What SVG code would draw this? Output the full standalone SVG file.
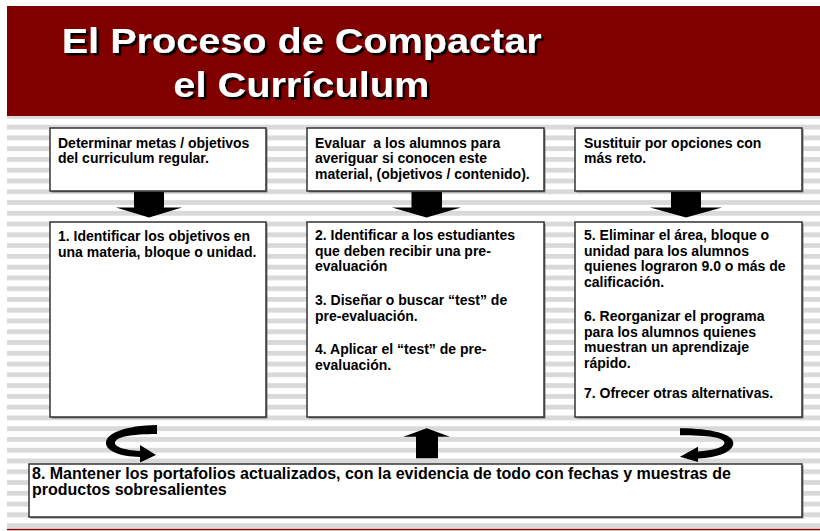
<svg xmlns="http://www.w3.org/2000/svg" width="820" height="531" viewBox="0 0 820 531">
<defs>
<pattern id="stripes" x="0" y="6.23" width="20" height="10.77" patternUnits="userSpaceOnUse"><rect width="20" height="4.8" fill="#d9d9d9"/></pattern>
<filter id="tshadow" x="-5%" y="-20%" width="110%" height="140%"><feDropShadow dx="2.5" dy="2.5" stdDeviation="0.3" flood-color="#000000" flood-opacity="1"/></filter>
<style>
.box{fill:#ffffff;stroke:#333333;stroke-width:1.5}
.shadow{fill:#7f7f7f}
.t{font-family:"Liberation Sans",Arial,sans-serif;font-weight:bold;font-size:14px;fill:#000000}
.t8{font-size:16px}
.title{font-family:"Liberation Sans",Arial,sans-serif;font-weight:bold;font-size:34.5px;fill:#ffffff;filter:url(#tshadow)}
.arrow{fill:#000000}
</style>
</defs>
<rect x="0" y="0" width="820" height="531" fill="#ffffff"/>
<rect x="7" y="112" width="813" height="416" fill="url(#stripes)"/>
<rect x="7" y="6" width="813" height="110" fill="#800000"/>
<line x1="7" y1="529.5" x2="820" y2="529.5" stroke="#800000" stroke-width="1.5"/>
<g id="title">
<text class="title" x="61.7" y="53.3" textLength="480" lengthAdjust="spacingAndGlyphs">El Proceso de Compactar</text>
<text class="title" x="173.3" y="96.7" textLength="256" lengthAdjust="spacingAndGlyphs">el Currículum</text>
</g>
<g id="box1">
<rect class="shadow" x="51.5" y="129.5" width="216" height="63"/>
<rect class="box" x="50" y="128" width="216" height="63"/>
<text class="t" x="58"><tspan x="58" y="147.5">Determinar metas / objetivos</tspan><tspan x="58" y="163">del curriculum regular.</tspan></text>
</g>
<g id="box2">
<rect class="shadow" x="308.5" y="129.5" width="237" height="63"/>
<rect class="box" x="307" y="128" width="237" height="63"/>
<text class="t" x="315" xml:space="preserve"><tspan x="315" y="147.5">Evaluar  a los alumnos para</tspan><tspan x="315" y="163">averiguar si conocen este</tspan><tspan x="315" y="178.5">material, (objetivos / contenido).</tspan></text>
</g>
<g id="box3">
<rect class="shadow" x="576.5" y="129.5" width="227" height="63"/>
<rect class="box" x="575" y="128" width="227" height="63"/>
<text class="t" x="584"><tspan x="584" y="147.5">Sustituir por opciones con</tspan><tspan x="584" y="163">más reto.</tspan></text>
</g>
<g id="box4">
<rect class="shadow" x="51.5" y="223.5" width="216" height="195"/>
<rect class="box" x="50" y="222" width="216" height="195"/>
<text class="t" x="58"><tspan x="58" y="241">1. Identificar los objetivos en</tspan><tspan x="58" y="256.5">una materia, bloque o unidad.</tspan></text>
</g>
<g id="box5">
<rect class="shadow" x="308.5" y="223.5" width="237" height="195"/>
<rect class="box" x="307" y="222" width="237" height="195"/>
<text class="t" x="315"><tspan x="315" y="240">2. Identificar a los estudiantes</tspan><tspan x="315" y="255.5">que deben recibir una pre-</tspan><tspan x="315" y="271">evaluación</tspan><tspan x="315" y="305">3. Diseñar o buscar “test” de</tspan><tspan x="315" y="320.5">pre-evaluación.</tspan><tspan x="315" y="354">4. Aplicar el “test” de pre-</tspan><tspan x="315" y="369.5">evaluación.</tspan></text>
</g>
<g id="box6">
<rect class="shadow" x="576.5" y="223.5" width="227" height="195"/>
<rect class="box" x="575" y="222" width="227" height="195"/>
<text class="t" x="584"><tspan x="584" y="240">5. Eliminar el área, bloque o</tspan><tspan x="584" y="255.5">unidad para los alumnos</tspan><tspan x="584" y="271">quienes lograron 9.0 o más de</tspan><tspan x="584" y="286.5">calificación.</tspan><tspan x="584" y="321">6. Reorganizar el programa</tspan><tspan x="584" y="336.5">para los alumnos quienes</tspan><tspan x="584" y="352">muestran un aprendizaje</tspan><tspan x="584" y="367.5">rápido.</tspan><tspan x="584" y="398">7. Ofrecer otras alternativas.</tspan></text>
</g>
<g id="box8">
<rect class="shadow" x="30.5" y="465.5" width="773" height="53"/>
<rect class="box" x="29" y="464" width="773" height="53"/>
<text class="t t8" x="32"><tspan x="32" y="479">8. Mantener los portafolios actualizados, con la evidencia de todo con fechas y muestras de</tspan><tspan x="32" y="494.5">productos sobresalientes</tspan></text>
</g>
<g id="connectors">
<polygon class="arrow" points="134,192 164,192 164,207.5 182,207.5 149,217.5 116,207.5 134,207.5"/>
<polygon class="arrow" points="411.5,192 442,192 442,207.5 461,207.5 426.5,217.5 392,207.5 411.5,207.5"/>
<polygon class="arrow" points="671,192 701,192 701,207.5 722,207.5 686,217.5 650,207.5 671,207.5"/>
<polygon class="arrow" points="416,458.3 438,458.3 438,436.7 450,436.7 426.7,428.3 403.3,436.7 416,436.7"/>
<path class="arrow" d="M157,425 C126,425.5 106,433 106,443 C106,451 120,456.5 140,457 L140,462.5 L156,455 L140,445 L140,451 C124,450 115,447 115,443 C115,437 131,434 157,434 Z"/>
<path class="arrow" d="M680,428.3 C711,428.5 733.3,434 733.3,443 C733.3,452 718,457.5 698,458.5 L698,462 L680,456.7 L698,446.7 L698,451.5 C713,450.5 724.5,447 724.5,443 C724.5,437.5 708,435.3 680,435.3 Z"/>
</g>
</svg>
